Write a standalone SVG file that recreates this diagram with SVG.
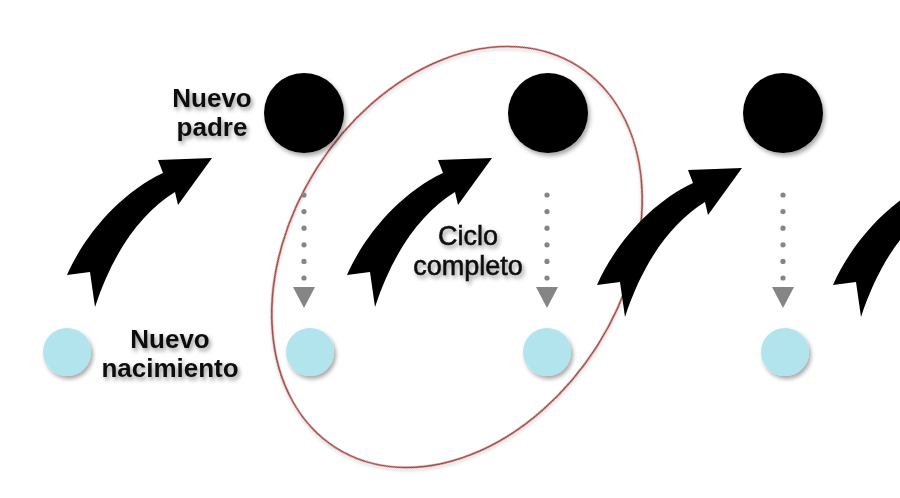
<svg xmlns="http://www.w3.org/2000/svg" width="900" height="498" viewBox="0 0 900 498">
  <defs>
    <filter id="sh" x="-30%" y="-30%" width="160%" height="160%">
      <feDropShadow dx="2" dy="3" stdDeviation="2" flood-color="#000" flood-opacity="0.35"/>
    </filter>
    <filter id="tsh" x="-20%" y="-30%" width="140%" height="160%">
      <feDropShadow dx="2" dy="3" stdDeviation="2" flood-color="#000" flood-opacity="0.4"/>
    </filter>
    <filter id="esh" x="-10%" y="-10%" width="120%" height="120%">
      <feDropShadow dx="1.5" dy="2" stdDeviation="1.5" flood-color="#000" flood-opacity="0.2"/>
    </filter>
    <path id="curved" d="M 67 275 C 84 236 120 193 163 173 L 158 160 L 212 158 L 178 205 L 175 192 C 141 213 113 252 95 307 L 90 272 Z"/>
    <g id="dotted">
      <circle cx="0" cy="195" r="2.6"/>
      <circle cx="0" cy="211.6" r="2.6"/>
      <circle cx="0" cy="228.2" r="2.6"/>
      <circle cx="0" cy="244.8" r="2.6"/>
      <circle cx="0" cy="261.4" r="2.6"/>
      <circle cx="0" cy="278" r="2.6"/>
      <polygon points="-11,287 11,287 0,308"/>
    </g>
  </defs>
  <style>
    .parent { fill: #000; filter: url(#sh); }
    .birth { fill: #B2E4EE; filter: url(#sh); }
    .lbl { font-family: "Liberation Sans", Arial, sans-serif; font-size: 26px; fill: #111; text-anchor: middle; filter: url(#tsh); }
    .bold { font-weight: bold; }
    .mid { font-size: 27px; stroke: #111; stroke-width: 0.6px; }
    .arrow { fill: #000; }
    .dots { fill: #858585; }
    .cycle { fill: none; stroke: #9A3B3B; stroke-width: 1.6; filter: url(#esh); }
  </style>
  <rect width="900" height="498" fill="#fff"/>

  <g id="cycle">
    <ellipse class="cycle" cx="457" cy="257" rx="166" ry="226" transform="rotate(32.4 457 257)"/>
  </g>

  <g id="connectors">
    <use href="#curved" class="arrow"/>
    <use href="#curved" class="arrow" transform="translate(280 0)"/>
    <use href="#curved" class="arrow" transform="translate(530 10)"/>
    <use href="#curved" class="arrow" transform="translate(766 10)"/>
    <use href="#dotted" class="dots" transform="translate(304 0)"/>
    <use href="#dotted" class="dots" transform="translate(547 0)"/>
    <use href="#dotted" class="dots" transform="translate(783 0)"/>
  </g>

  <g id="parent1"><circle class="parent" cx="304" cy="113" r="40"/></g>
  <g id="parent2"><circle class="parent" cx="548" cy="113" r="40"/></g>
  <g id="parent3"><circle class="parent" cx="783" cy="113" r="40"/></g>

  <g id="birth1"><circle class="birth" cx="67" cy="352" r="24"/></g>
  <g id="birth2"><circle class="birth" cx="310" cy="352" r="24"/></g>
  <g id="birth3"><circle class="birth" cx="547" cy="352" r="24"/></g>
  <g id="birth4"><circle class="birth" cx="785" cy="352" r="24"/></g>

  <g id="label-padre">
    <text class="lbl bold" x="212" y="107">Nuevo</text>
    <text class="lbl bold" x="212" y="136">padre</text>
  </g>
  <g id="label-nacimiento">
    <text class="lbl bold" x="170" y="348">Nuevo</text>
    <text class="lbl bold" x="170" y="377">nacimiento</text>
  </g>
  <g id="label-ciclo">
    <text class="lbl mid" x="468" y="245">Ciclo</text>
    <text class="lbl mid" x="468" y="275">completo</text>
  </g>
</svg>
